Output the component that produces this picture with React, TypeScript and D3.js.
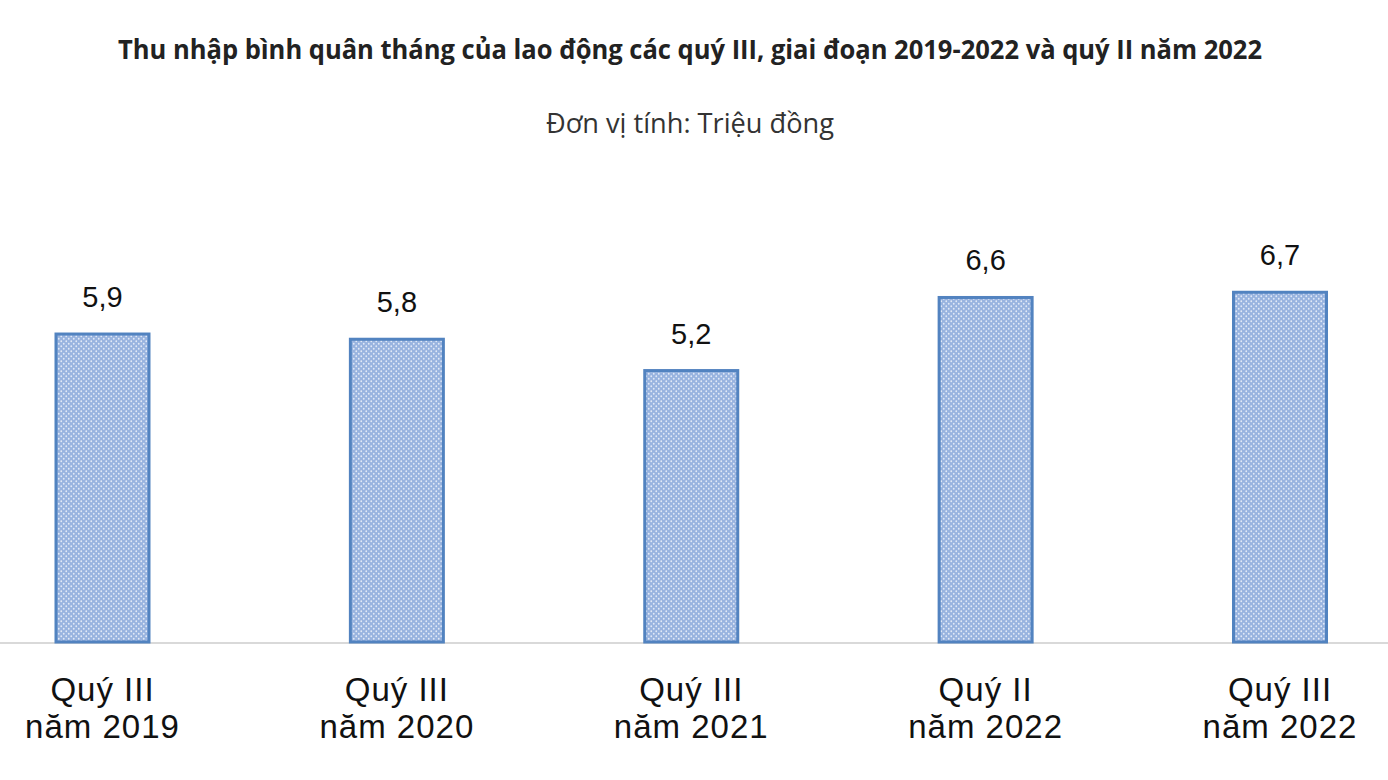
import React, { useEffect, useRef } from "react";
import * as d3 from "d3";

const W = 1388;
const H = 780;

// dữ liệu
const quarters = ["Quý III", "Quý III", "Quý III", "Quý II", "Quý III"];
const years = ["năm 2019", "năm 2020", "năm 2021", "năm 2022", "năm 2022"];
const incomes = [5.9, 5.8, 5.2, 6.6, 6.7];
const valueLabels = ["5,9", "5,8", "5,2", "6,6", "6,7"];

const title = "Thu nhập bình quân tháng của lao động các quý III, giai đoạn 2019-2022 và quý II năm 2022";
const subtitle = "Đơn vị tính: Triệu đồng";

export default function App() {
  const svgRef = useRef<SVGSVGElement | any>();

  useEffect(() => {
    const svg = d3.select(svgRef.current);
    svg.selectAll("*").remove();

    const keys = incomes.map((_, i) => String(i));
    const xScale = d3.scalePoint<string>().domain(keys).range([102.5, 1280]);
    const yScale = d3.scaleLinear().domain([0, 10]).range([642, 120]);
    const barW = 93;

    const defs = svg.append("defs");
    const pat = defs
      .append("pattern")
      .attr("id", "dots")
      .attr("width", 5)
      .attr("height", 5)
      .attr("patternUnits", "userSpaceOnUse");
    pat.append("rect").attr("width", 5).attr("height", 5).attr("fill", "#98b3df");
    pat.append("circle").attr("cx", 1.25).attr("cy", 1.25).attr("r", 0.9).attr("fill", "#e2eaf7");
    pat.append("circle").attr("cx", 3.75).attr("cy", 3.75).attr("r", 0.9).attr("fill", "#e2eaf7");

    svg
      .append("text")
      .attr("x", 690)
      .attr("y", 59)
      .attr("text-anchor", "middle")
      .attr("font-family", "'Open Sans', sans-serif")
      .attr("font-weight", 700)
      .attr("font-size", 26)
      .attr("fill", "#222")
      .attr("textLength", 1144)
      .attr("lengthAdjust", "spacingAndGlyphs")
      .text(title);

    svg
      .append("text")
      .attr("x", 690)
      .attr("y", 133)
      .attr("text-anchor", "middle")
      .attr("font-family", "'Open Sans', sans-serif")
      .attr("font-size", 27)
      .attr("fill", "#333")
      .attr("textLength", 288)
      .attr("lengthAdjust", "spacingAndGlyphs")
      .text(subtitle);

    // đường đáy
    svg
      .append("line")
      .attr("x1", 0)
      .attr("x2", W)
      .attr("y1", 643)
      .attr("y2", 643)
      .attr("stroke", "#d9d9d9")
      .attr("stroke-width", 2);

    svg
      .selectAll(".bar")
      .data(incomes)
      .join("rect")
      .attr("class", "bar")
      .attr("x", (d, i) => (xScale(String(i)) as number) - barW / 2)
      .attr("y", (d) => yScale(d))
      .attr("width", barW)
      .attr("height", (d) => yScale(0) - yScale(d))
      .attr("fill", "url(#dots)")
      .attr("stroke", "#5283c0")
      .attr("stroke-width", 3);

    svg
      .selectAll(".val")
      .data(incomes)
      .join("text")
      .attr("class", "val")
      .attr("x", (d, i) => xScale(String(i)) as number)
      .attr("y", (d) => yScale(d) - 27)
      .attr("text-anchor", "middle")
      .attr("font-family", "'Liberation Sans', Arial, sans-serif")
      .attr("font-size", 29)
      .attr("fill", "#111")
      .text((d, i) => valueLabels[i]);

    const cats = svg
      .selectAll(".cat")
      .data(incomes)
      .join("text")
      .attr("class", "cat")
      .attr("x", (d, i) => xScale(String(i)) as number)
      .attr("text-anchor", "middle")
      .attr("font-family", "'Liberation Sans', Arial, sans-serif")
      .attr("font-size", 33)
      .attr("letter-spacing", 1)
      .attr("fill", "#111");
    cats
      .append("tspan")
      .attr("x", (d, i) => xScale(String(i)) as number)
      .attr("y", 701)
      .text((d, i) => quarters[i]);
    cats
      .append("tspan")
      .attr("x", (d, i) => xScale(String(i)) as number)
      .attr("y", 738)
      .text((d, i) => years[i]);
  }, []);

  return (
    <svg
      ref={svgRef}
      width={W}
      height={H}
      style={{ position: "absolute", left: 0, top: 0, background: "#fff" }}
    />
  );
}
